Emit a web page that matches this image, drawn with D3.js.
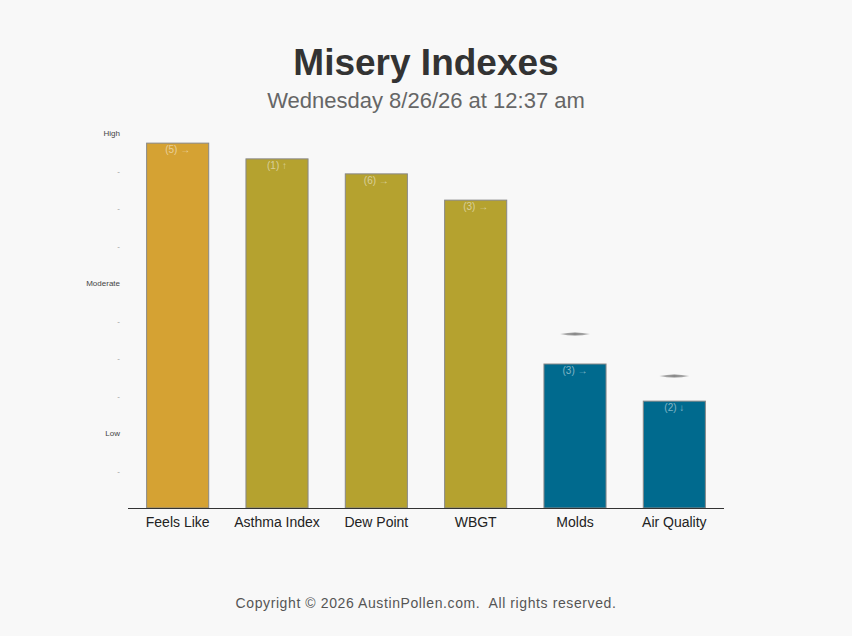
<!DOCTYPE html>
<html><head><meta charset="utf-8">
<script src="https://cdn.jsdelivr.net/npm/d3@7"></script>
<style>
html,body{margin:0;padding:0;background:#f8f8f8;}
svg{display:block;font-family:"Liberation Sans",Arial,sans-serif;}
</style></head>
<body><svg id="chart" width="852" height="636"></svg>
<script>
const categories = ["Feels Like","Asthma Index","Dew Point","WBGT","Molds","Air Quality"];
const values = [9.73, 9.31, 8.91, 8.21, 3.84, 2.85];
const barLabels = ["(5) \u2192","(1) \u2191","(6) \u2192","(3) \u2192","(3) \u2192","(2) \u2193"];
const barColors = ["#d5a233","#b5a22f","#b5a22f","#b5a22f","#006a8e","#006a8e"];
const forecast = [null, null, null, null, 4.64, 3.52];
const tickValues = [1,2,3,4,5,6,7,8,9,10];
const tickLabels = ["-","Low","-","-","-","Moderate","-","-","-","High"];

(function(){
const svg = d3.select("#chart");
const W = 852, H = 636;
const mLeft = 128, mRight = 724, mTop = 133, mBottom = 508;

const x = d3.scaleBand().domain(categories).range([mLeft, mRight]).paddingInner(0.375).paddingOuter(0.1875);
const y = d3.scaleLinear().domain([0, 10]).range([mBottom, mTop]);

svg.append("text").attr("x", W/2).attr("y", 75).attr("text-anchor","middle")
  .attr("font-size", 37).attr("font-weight","bold").attr("fill","#333").text("Misery Indexes");
svg.append("text").attr("x", W/2).attr("y", 108).attr("text-anchor","middle")
  .attr("font-size", 22).attr("fill","#666").text("Wednesday 8/26/26 at 12:37 am");

// y axis labels
const yAxis = d3.axisLeft(y).tickValues(tickValues).tickFormat((d,i)=>tickLabels[i]).tickSize(0).tickPadding(0);
const yg = svg.append("g").attr("transform", `translate(${mLeft-8},0)`).call(yAxis);
yg.select(".domain").remove();
yg.selectAll("text").attr("font-family","Liberation Sans, Arial, sans-serif").attr("font-size", 8)
  .attr("fill", (d,i) => tickLabels[i] === "-" ? "#999" : "#444");

// bars
svg.append("g").selectAll("rect").data(categories).join("rect")
  .attr("x", d => x(d)).attr("width", x.bandwidth())
  .attr("y", (d,i) => y(values[i])).attr("height", (d,i) => y(0) - y(values[i]))
  .attr("fill", (d,i) => barColors[i]).attr("stroke","#888").attr("stroke-width",1);

svg.append("g").selectAll("text").data(categories).join("text")
  .attr("x", d => x(d) + x.bandwidth()/2).attr("y", (d,i) => y(values[i]) + 10)
  .attr("text-anchor","middle").attr("font-size", 10).attr("fill","rgba(255,255,255,0.5)")
  .text((d,i) => barLabels[i]);

// forecast markers (flat diamonds)
const defs = svg.append("defs");
const grad = defs.append("linearGradient").attr("id","dg").attr("x1","0").attr("x2","1");
grad.append("stop").attr("offset","0").attr("stop-color","#bbb");
grad.append("stop").attr("offset","0.5").attr("stop-color","#888");
grad.append("stop").attr("offset","1").attr("stop-color","#bbb");
svg.append("g").selectAll("path").data(categories.filter((d,i)=>forecast[i]!==null)).join("path")
  .attr("d", d => {
    const i = categories.indexOf(d);
    const cx = x(d) + x.bandwidth()/2, cy = y(forecast[i]);
    return `M${cx-15},${cy} Q${cx},${cy-3} ${cx+15},${cy} Q${cx},${cy+3} ${cx-15},${cy} Z`;
  })
  .attr("fill","url(#dg)");

// x axis
const xAxis = d3.axisBottom(x).tickSize(0).tickPadding(9);
const xg = svg.append("g").attr("transform", `translate(0,${mBottom})`).call(xAxis);
xg.select(".domain").attr("stroke","#333").attr("d", `M${mLeft},0.5H${mRight}`);
xg.selectAll("text").attr("font-family","Liberation Sans, Arial, sans-serif").attr("font-size", 14).attr("fill","#222");

svg.append("text").attr("x", W/2).attr("y", 608).attr("text-anchor","middle")
  .attr("font-size", 14).attr("fill","#555").attr("letter-spacing", 0.6)
  .attr("xml:space","preserve").style("white-space","pre")
  .text("Copyright \u00a9 2026 AustinPollen.com.  All rights reserved.");
})();
</script></body></html>
